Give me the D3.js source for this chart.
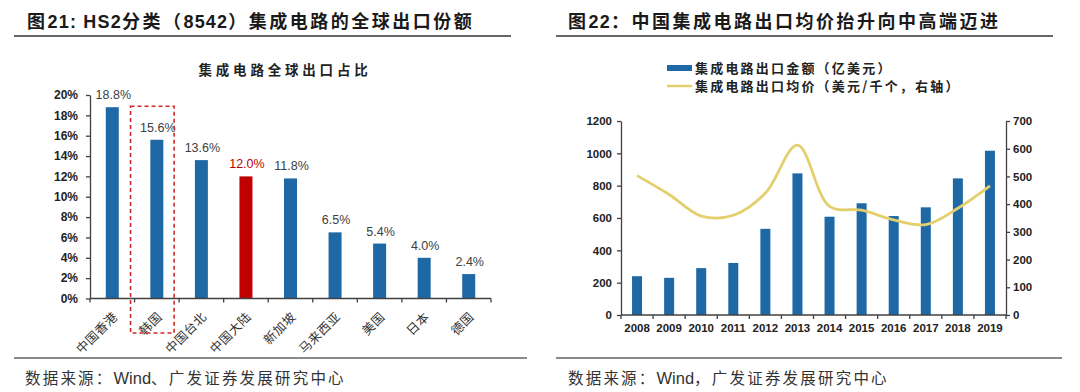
<!DOCTYPE html>
<html><head><meta charset="utf-8">
<script src="https://cdn.jsdelivr.net/npm/d3@7"></script>
<style>
html,body{margin:0;padding:0;background:#fff;}
svg{display:block;}
</style></head>
<body>
<svg id="c" width="1080" height="392"></svg>
<script>
// ---------- data ----------
const leftTitle = "集成电路全球出口占比";
const leftCategories = ["中国香港","韩国","中国台北","中国大陆","新加坡","马来西亚","美国","日本","德国"];
const leftValues = [18.8, 15.6, 13.6, 12.0, 11.8, 6.5, 5.4, 4.0, 2.4];
const leftHighlight = "中国大陆";
const leftBoxed = "韩国";
const leftTicks = [0,2,4,6,8,10,12,14,16,18,20];

const years = ["2008","2009","2010","2011","2012","2013","2014","2015","2016","2017","2018","2019"];
const exportAmount = [240, 230, 290, 322, 533, 876, 608, 691, 612, 666, 845, 1016];
const avgPrice = [503, 435, 357, 360, 440, 613, 392, 378, 343, 326, 385, 466];
const leftAxisTicks = [0,200,400,600,800,1000,1200];
const rightAxisTicks = [0,100,200,300,400,500,600,700];
const legendLabels = ["集成电路出口金额（亿美元）","集成电路出口均价（美元/千个，右轴）"];

const header1 = "图21: HS2分类（8542）集成电路的全球出口份额";
const header2 = "图22：中国集成电路出口均价抬升向中高端迈进";
const source1 = "数据来源：Wind、广发证券发展研究中心";
const source2 = "数据来源：Wind，广发证券发展研究中心";

// ---------- style ----------
const BLUE = "#1f68a6", RED = "#c00000", GOLD = "#e3d06c", AXIS = "#404040";
const LAT = "'Liberation Sans', Arial, 'Noto Sans CJK SC', sans-serif";
const CJK = "'Noto Sans CJK SC', 'Liberation Sans', sans-serif";

const svg = d3.select("#c");

// split text into CJK / non-CJK runs, letter-spacing applied to CJK runs
function runs(str){
  const re = /[\u3000-\u9fff\uff00-\uffef]+|[^\u3000-\u9fff\uff00-\uffef]+/g;
  return str.match(re) || [];
}
function mixedText(sel, str, cjkSpacing, latSpacing){
  runs(str).forEach(r => {
    const isC = /[\u3000-\u9fff\uff00-\uffef]/.test(r);
    sel.append("tspan").attr("letter-spacing", isC ? cjkSpacing : latSpacing).text(r);
  });
}

// headers
function header(x, y, lineX1, lineX2, lineY, txt){
  const t = svg.append("text").attr("x", x).attr("y", y)
    .attr("font-family", "'Liberation Sans','Noto Sans CJK SC',sans-serif")
    .attr("font-weight", "bold").attr("font-size", 18)
    .attr("fill", "#1a1a1a");
  mixedText(t, txt, 2.5, 1.2);
  svg.append("line").attr("x1", lineX1).attr("x2", lineX2).attr("y1", lineY).attr("y2", lineY)
    .attr("stroke", "#333").attr("stroke-width", 1.5);
}
header(27, 28, 14, 511, 36, header1);
header(568, 28, 556, 1053, 36, header2);

function footer(x, lineX1, lineX2, txt){
  svg.append("line").attr("x1", lineX1).attr("x2", lineX2).attr("y1", 358).attr("y2", 358)
    .attr("stroke", "#8a8a8a").attr("stroke-width", 2);
  const t = svg.append("text").attr("x", x).attr("y", 384)
    .attr("font-family", CJK).attr("font-size", 15.5).attr("fill", "#333");
  mixedText(t, txt, 2.2, 0);
  t.selectAll("tspan").filter(function(){ return !/[\u3000-\u9fff\uff00-\uffef]/.test(this.textContent); })
    .attr("font-family", LAT).attr("font-size", 16.5);
}
footer(25, 14, 527, source1);
footer(568, 556, 1062, source2);

// ---------- left chart ----------
const gL = svg.append("g");
const xL = d3.scaleBand().domain(leftCategories).range([90, 491]).padding(0);
const yL = d3.scaleLinear().domain([0, 20]).range([298.5, 95]);
const barWL = 13;

gL.append("text").attr("x", 285).attr("y", 75).attr("text-anchor", "middle")
  .attr("font-family", CJK).attr("font-weight", "bold").attr("font-size", 13.5)
  .attr("letter-spacing", 3.8).attr("fill", "#222").text(leftTitle);

// y axis
const yAxL = d3.axisLeft(yL).tickValues(leftTicks).tickFormat(d => d + "%").tickSize(4).tickSizeOuter(0);
const gyL = gL.append("g").attr("transform", "translate(90,0)").call(yAxL);
gyL.select(".domain").attr("stroke", AXIS).attr("stroke-width", 1.3);
gyL.selectAll(".tick line").attr("stroke", AXIS).attr("stroke-width", 1.3);
gyL.selectAll(".tick text").attr("x", -12).attr("font-family", LAT).attr("font-weight", "bold")
  .attr("font-size", 12).attr("fill", "#222");

// bars
gL.selectAll("rect.bar").data(leftCategories).join("rect").attr("class", "bar")
  .attr("x", d => xL(d) + xL.bandwidth()/2 - barWL/2)
  .attr("width", barWL)
  .attr("y", (d,i) => yL(leftValues[i]))
  .attr("height", (d,i) => yL(0) - yL(leftValues[i]))
  .attr("fill", d => d === leftHighlight ? RED : BLUE);

// value labels
gL.selectAll("text.val").data(leftCategories).join("text").attr("class", "val")
  .attr("x", d => xL(d) + xL.bandwidth()/2 + 1)
  .attr("y", (d,i) => yL(leftValues[i]) - 8)
  .attr("text-anchor", "middle").attr("font-family", LAT).attr("font-size", 12.5)
  .attr("fill", d => d === leftHighlight ? RED : "#404040")
  .text((d,i) => leftValues[i].toFixed(1) + "%");

// x axis
gL.append("line").attr("x1", 90).attr("x2", 491).attr("y1", yL(0)).attr("y2", yL(0))
  .attr("stroke", AXIS).attr("stroke-width", 1.3);
const bounds = leftCategories.map(c => xL(c)).concat([xL(leftCategories[leftCategories.length-1]) + xL.bandwidth()]);
gL.selectAll("line.xt").data(bounds).join("line").attr("class", "xt")
  .attr("x1", d => d).attr("x2", d => d).attr("y1", yL(0)).attr("y2", yL(0) + 4)
  .attr("stroke", AXIS).attr("stroke-width", 1.3);
gL.selectAll("text.cat").data(leftCategories).join("text").attr("class", "cat")
  .attr("transform", d => `translate(${xL(d) + xL.bandwidth()/2 + 3},${yL(0) + 16}) rotate(-45)`)
  .attr("text-anchor", "end").attr("dy", "0.35em")
  .attr("font-family", CJK).attr("font-size", 12.5).attr("letter-spacing", 0.5).attr("fill", "#333")
  .text(d => d);

// dashed box around boxed category
gL.append("rect")
  .attr("x", xL(leftBoxed) - 4).attr("width", xL.bandwidth() - 1)
  .attr("y", yL(18.9)).attr("height", 333 - yL(18.9))
  .attr("fill", "none").attr("stroke", "#d02a2a").attr("stroke-width", 1.6)
  .attr("stroke-dasharray", "4,3");

// ---------- right chart ----------
const gR = svg.append("g");
const xR = d3.scaleBand().domain(years).range([621, 1006]).padding(0);
const yR1 = d3.scaleLinear().domain([0, 1200]).range([315, 121]);
const yR2 = d3.scaleLinear().domain([0, 700]).range([315, 121]);
const barWR = 10;

// legend
gR.append("rect").attr("x", 667).attr("y", 65).attr("width", 25).attr("height", 6).attr("fill", BLUE);
gR.append("line").attr("x1", 667).attr("x2", 692).attr("y1", 86).attr("y2", 86)
  .attr("stroke", GOLD).attr("stroke-width", 2.5);
gR.selectAll("text.leg").data(legendLabels).join("text").attr("class", "leg")
  .attr("x", 695).attr("y", (d,i) => 73 + i*18)
  .attr("font-family", CJK).attr("font-weight", "bold").attr("font-size", 13)
  .attr("letter-spacing", 2.2).attr("fill", "#222").text(d => d);

// axes
function styleAxis(g){
  g.select(".domain").attr("stroke", AXIS).attr("stroke-width", 1.3);
  g.selectAll(".tick line").attr("stroke", AXIS).attr("stroke-width", 1.3);
  g.selectAll(".tick text").attr("font-family", LAT).attr("font-weight", "bold")
    .attr("font-size", 11.5).attr("fill", "#222");
}
const gy1 = gR.append("g").attr("transform", "translate(621,0)")
  .call(d3.axisLeft(yR1).tickValues(leftAxisTicks).tickFormat(d3.format("d")).tickSize(4).tickSizeOuter(0));
styleAxis(gy1);
gy1.selectAll(".tick text").attr("x", -9);
const gy2 = gR.append("g").attr("transform", "translate(1006,0)")
  .call(d3.axisRight(yR2).tickValues(rightAxisTicks).tickFormat(d3.format("d")).tickSize(4).tickSizeOuter(0));
styleAxis(gy2);
gy2.selectAll(".tick text").attr("x", 7);

// bars
gR.selectAll("rect.bar").data(years).join("rect").attr("class", "bar")
  .attr("x", d => xR(d) + xR.bandwidth()/2 - barWR/2)
  .attr("width", barWR)
  .attr("y", (d,i) => yR1(exportAmount[i]))
  .attr("height", (d,i) => yR1(0) - yR1(exportAmount[i]))
  .attr("fill", BLUE);

// x axis
gR.append("line").attr("x1", 621).attr("x2", 1006).attr("y1", 315).attr("y2", 315)
  .attr("stroke", AXIS).attr("stroke-width", 1.3);
const boundsR = years.map(c => xR(c)).concat([1006]);
gR.selectAll("line.xt").data(boundsR).join("line").attr("class", "xt")
  .attr("x1", d => d).attr("x2", d => d).attr("y1", 315).attr("y2", 319)
  .attr("stroke", AXIS).attr("stroke-width", 1.3);
gR.selectAll("text.yr").data(years).join("text").attr("class", "yr")
  .attr("x", d => xR(d) + xR.bandwidth()/2).attr("y", 332)
  .attr("text-anchor", "middle").attr("font-family", LAT).attr("font-weight", "bold")
  .attr("font-size", 11.5).attr("fill", "#222").text(d => d);

// line
const line = d3.line()
  .x((d,i) => xR(years[i]) + xR.bandwidth()/2)
  .y(d => yR2(d))
  .curve(d3.curveCatmullRom.alpha(0.5));
gR.append("path").datum(avgPrice).attr("d", line)
  .attr("fill", "none").attr("stroke", GOLD).attr("stroke-width", 2.8);
</script>
</body></html>
